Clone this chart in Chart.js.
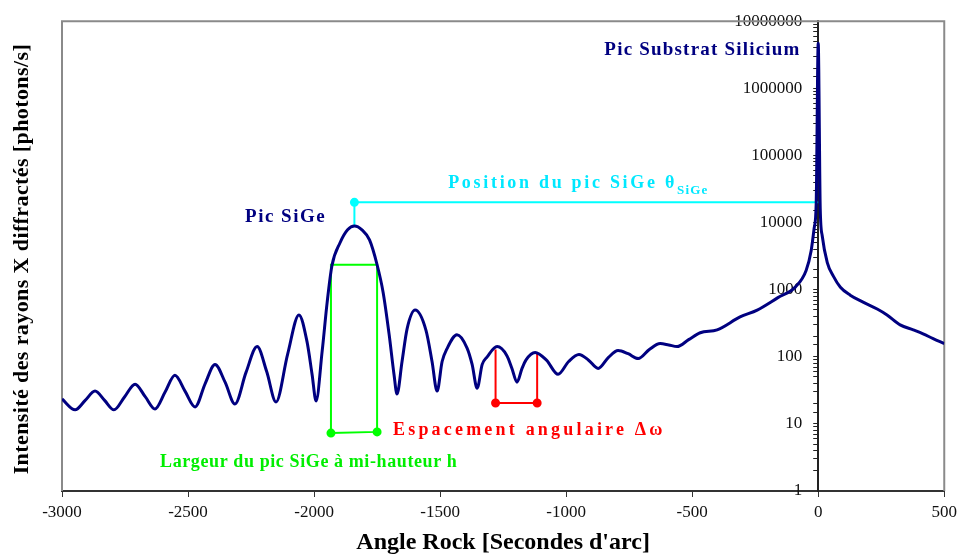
<!DOCTYPE html>
<html>
<head>
<meta charset="utf-8">
<script src="https://cdn.jsdelivr.net/npm/chart.js@4/dist/chart.umd.min.js"></script>
<style>
  html, body { margin: 0; padding: 0; background: #fff; }
</style>
</head>
<body>
<canvas id="graficaRocking" width="962" height="560"></canvas>
<script>
// Courbe de diffraction (angle en secondes d'arc, intensité en photons/s)
const angles = [
  -3000, -2948, -2908, -2869, -2831, -2794, -2752, -2710, -2670, -2631,
  -2591, -2552, -2512, -2472, -2432, -2393, -2353, -2314, -2270, -2226,
  -2188, -2151, -2105, -2060, -2028, -2008, -1992, -1968, -1948, -1929,
  -1897, -1867, -1840, -1810, -1780, -1750, -1726, -1702, -1683, -1671,
  -1651, -1631, -1599, -1556, -1532, -1512, -1492, -1473, -1433, -1393,
  -1373, -1353, -1333, -1314, -1274, -1235, -1215, -1195, -1175, -1159,
  -1123, -1078, -1032, -990, -949, -911, -873, -833, -794, -754,
  -714, -670, -627, -593, -560, -514, -468, -401, -310, -242,
  -160, -90, -48, -28, -16, -8, 0, 8, 16, 36,
  60, 88, 127, 178, 234, 273, 325, 377, 416, 456,
  500
];
const intensites = [
  23.5, 16.2, 22.4, 30.8, 22.4, 16.2, 25.2, 39, 25.5, 16.7,
  29.8, 53, 30.8, 17.9, 39.9, 77, 41.8, 19.8, 58.5, 142,
  60.3, 21.2, 109, 420, 168, 55, 22, 120, 653, 2290,
  5000, 7800, 8900, 7800, 5500, 2350, 910, 212, 55, 27.8,
  85, 261, 497, 248, 85, 30.8, 85, 131, 213, 135,
  77, 34, 77, 99, 142, 104, 67, 41.8, 67, 90,
  116, 89, 54.8, 85, 108, 89, 67, 97, 124, 111,
  94, 128, 157, 150, 142, 180, 228, 252, 392, 497,
  760, 1100, 1930, 3800, 8300, 19400, 4700000, 16300, 6300, 2530,
  1590, 1085, 828, 653, 514, 420, 299, 252, 220, 186,
  157
];

const xTicks = [-3000, -2500, -2000, -1500, -1000, -500, 0, 500];
const yTicks = [1, 10, 100, 1000, 10000, 100000, 1000000, 10000000];

// Repères : position du pic SiGe, largeur à mi-hauteur, espacement des franges
const posX = [-1840, -1840, 0];
const posY = [8900, 20000, 20000];
const largX = [-1933, -1933, -1750, -1750, -1933];
const largY = [7.3, 2350, 2350, 7.6, 7.3];
const espX = [-1280, -1280, -1115, -1115];
const espY = [128, 20.5, 20.5, 112];

function pts(xs, ys) {
  return xs.map((v, i) => ({ x: v, y: ys[i] }));
}

const serif = "'Liberation Serif', 'Times New Roman', serif";

// textes posés en coordonnées du graphique
const etiquettes = [
  { t: 'Pic Substrat Silicium', x: -70, y: 3.7e6, align: 'right', col: '#000080', size: 19, sp: 1.2 },
  { t: 'Pic SiGe', x: -1952, y: 12100, align: 'right', col: '#000080', size: 19, sp: 1.5 },
  { t: 'Position du pic SiGe \u03B8', sub: 'SiGe', x: -1468, y: 38300, align: 'left', col: '#00e8ff', size: 18, sp: 2.7 },
  { t: 'Largeur du pic SiGe \u00E0 mi-hauteur h', x: -2611, y: 2.67, align: 'left', col: '#00ee00', size: 18, sp: 0.6 },
  { t: 'Espacement angulaire \u0394\u03C9', x: -1687, y: 7.9, align: 'left', col: '#ff0000', size: 18, sp: 3.2 }
];

const decor = {
  id: 'decor',
  afterLayout(chart) {
    // l'axe des intensités est placé sur l'angle 0
    const y = chart.scales.y;
    const x0 = chart.scales.x.getPixelForValue(0);
    y.left = x0 - 100;
    y.right = x0;
  },
  beforeDatasetsDraw(chart) {
    const { ctx, chartArea: a } = chart;
    ctx.save();
    ctx.strokeStyle = '#8a8a8a';
    ctx.lineWidth = 2;
    ctx.beginPath();
    ctx.moveTo(a.left, a.bottom);
    ctx.lineTo(a.left, a.top);
    ctx.lineTo(a.right, a.top);
    ctx.lineTo(a.right, a.bottom);
    ctx.stroke();
    ctx.restore();
  },
  afterDraw(chart) {
    const { ctx, chartArea: a, scales } = chart;
    ctx.save();
    ctx.textBaseline = 'middle';
    etiquettes.forEach(e => {
      const px = scales.x.getPixelForValue(e.x);
      const py = scales.y.getPixelForValue(e.y);
      ctx.font = 'bold ' + e.size + 'px ' + serif;
      ctx.fillStyle = e.col;
      ctx.letterSpacing = e.sp + 'px';
      ctx.textAlign = e.align;
      ctx.fillText(e.t, px, py);
      if (e.sub) {
        const w = ctx.measureText(e.t).width;
        ctx.font = 'bold 13px ' + serif;
        ctx.letterSpacing = '1.2px';
        ctx.textAlign = 'left';
        ctx.fillText(e.sub, px + w, py + 7);
      }
    });
    // titre de l'axe vertical
    ctx.letterSpacing = '0.4px';
    ctx.font = 'bold 22px ' + serif;
    ctx.fillStyle = '#000';
    ctx.textAlign = 'center';
    ctx.translate(22, (a.top + a.bottom) / 2 + 3);
    ctx.rotate(-Math.PI / 2);
    ctx.fillText('Intensit\u00E9 des rayons X diffract\u00E9s [photons/s]', 0, 0);
    ctx.restore();
  }
};

new Chart(document.getElementById('graficaRocking').getContext('2d'), {
  type: 'line',
  data: {
    datasets: [
      {
        label: 'Intensit\u00E9',
        data: pts(angles, intensites),
        borderColor: '#000080',
        borderWidth: 3,
        pointRadius: 0,
        cubicInterpolationMode: 'monotone',
        order: 1
      },
      {
        label: 'Position',
        data: pts(posX, posY),
        borderColor: '#00ffff',
        backgroundColor: '#00ffff',
        borderWidth: 2,
        pointRadius: [0, 3.5, 0],
        tension: 0,
        order: 2
      },
      {
        label: 'Largeur',
        data: pts(largX, largY),
        borderColor: '#00ff00',
        backgroundColor: '#00ff00',
        borderWidth: 2,
        pointRadius: [3.5, 0, 0, 3.5, 0],
        tension: 0,
        order: 2
      },
      {
        label: 'Espacement',
        data: pts(espX, espY),
        borderColor: '#ff0000',
        backgroundColor: '#ff0000',
        borderWidth: 2,
        pointRadius: [0, 3.5, 3.5, 0],
        tension: 0,
        order: 2
      }
    ]
  },
  options: {
    responsive: false,
    animation: false,
    layout: { padding: { left: 62, right: 17, top: 16, bottom: 0 } },
    plugins: {
      legend: { display: false },
      tooltip: { enabled: false }
    },
    scales: {
      x: {
        type: 'linear',
        min: -3000,
        max: 500,
        afterBuildTicks: s => { s.ticks = xTicks.map(v => ({ value: v })); },
        afterFit: s => { s.height = 69; },
        grid: { drawOnChartArea: false, tickLength: 6, color: '#333' },
        border: { color: '#333', width: 2 },
        ticks: {
          color: '#111',
          padding: 5,
          font: { family: serif, size: 17 },
          callback: v => String(v)
        },
        title: {
          display: true,
          text: "Angle Rock [Secondes d'arc]",
          color: '#000',
          font: { family: serif, size: 24, weight: 'bold' },
          padding: { top: 0, bottom: 3 }
        }
      },
      y: {
        type: 'logarithmic',
        position: 'left',
        min: 1,
        max: 10000000,
        afterFit: s => { s.width = 0; },
        grid: { drawOnChartArea: false, tickLength: 5, color: '#222' },
        border: { color: '#222', width: 2 },
        ticks: {
          autoSkip: false,
          color: '#111',
          padding: 11,
          font: { family: serif, size: 17 },
          callback: v => yTicks.includes(v) ? String(v) : ''
        }
      }
    }
  },
  plugins: [decor]
});
</script>
</body>
</html>
